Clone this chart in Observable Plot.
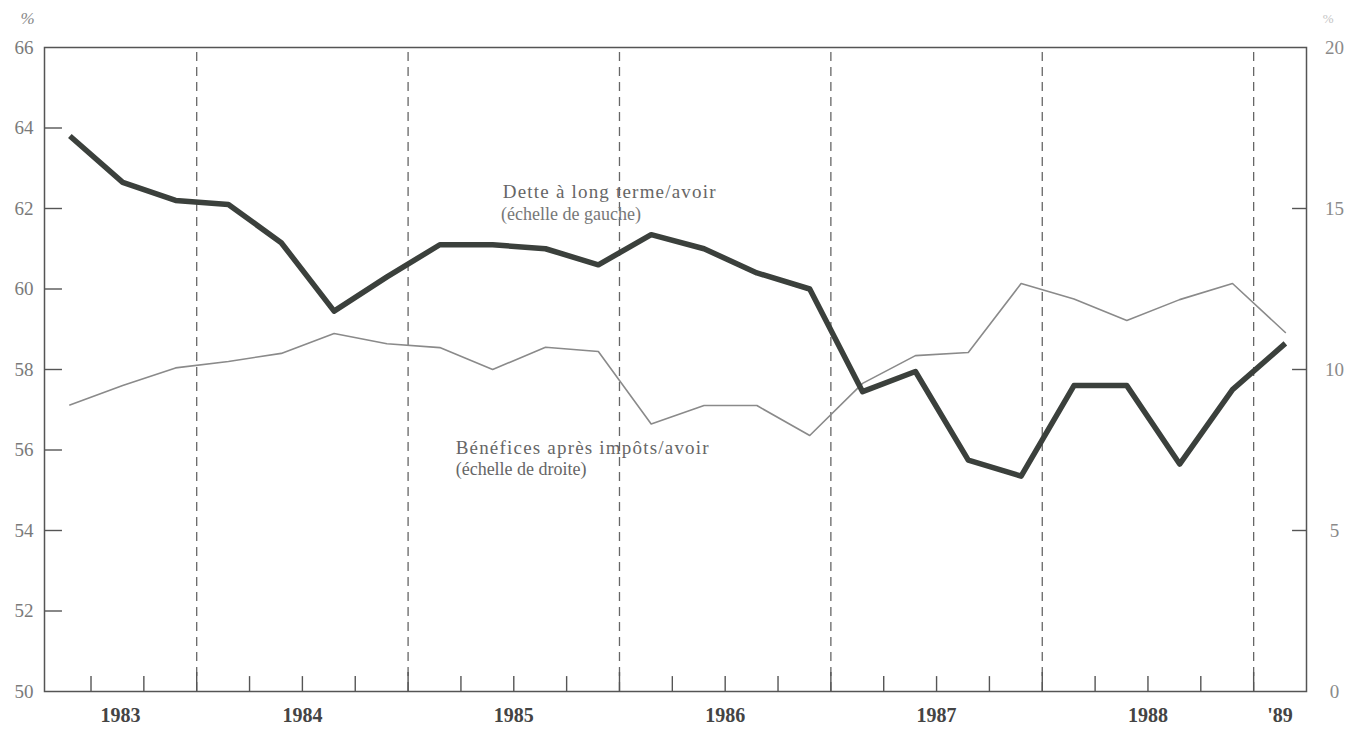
<!DOCTYPE html>
<html>
<head>
<meta charset="utf-8">
<script src="https://cdn.jsdelivr.net/npm/d3@7"></script>
<script src="https://cdn.jsdelivr.net/npm/@observablehq/plot@0.6"></script>
<style>
  html, body { margin: 0; padding: 0; background: #ffffff; }
  #chart svg { display: block; background: #ffffff; }
</style>
</head>
<body>
<div id="chart"></div>
<script>
// Quarterly observations
const quarters = [
  "1983-T2","1983-T3","1983-T4",
  "1984-T1","1984-T2","1984-T3","1984-T4",
  "1985-T1","1985-T2","1985-T3","1985-T4",
  "1986-T1","1986-T2","1986-T3","1986-T4",
  "1987-T1","1987-T2","1987-T3","1987-T4",
  "1988-T1","1988-T2","1988-T3","1988-T4",
  "1989-T1"
];
// Dette à long terme / avoir (%; échelle de gauche)
const detteAvoir = [63.8, 62.65, 62.2, 62.1, 61.15, 59.45, 60.3, 61.1, 61.1, 61.0, 60.6, 61.35,
                    61.0, 60.4, 60.0, 57.45, 57.95, 55.75, 55.35, 57.6, 57.6, 55.65, 57.5, 58.65];
// Bénéfices après impôts / avoir (%; échelle de droite)
const beneficesAvoir = [8.9, 9.5, 10.05, 10.25, 10.5, 11.12, 10.8, 10.68, 10.0, 10.69, 10.56, 8.31,
                        8.88, 8.88, 7.95, 9.57, 10.43, 10.53, 12.67, 12.19, 11.52, 12.17, 12.67, 11.15];
// Axis ticks
const leftTicks = [50, 52, 54, 56, 58, 60, 62, 64, 66];
const rightTicks = [0, 5, 10, 15, 20];
const years = [1983, 1984, 1985, 1986, 1987, 1988, 1989];
const yearLabels = ["1983", "1984", "1985", "1986", "1987", "1988", "'89"];

// Scale setup
const xDomain = [1983.28, 1989.25];
const yDomain = [50, 66];
const rightToLeft = r => 50 + r * 0.8;   // 0..20 -> 50..66

const qToX = q => {
  const [y, t] = q.split("-T");
  return +y + (+t - 1) / 4 + 0.15;
};

const dette = quarters.map((q, i) => ({x: qToX(q), v: detteAvoir[i]}));
const benef = quarters.map((q, i) => ({x: qToX(q), v: rightToLeft(beneficesAvoir[i])}));

const yearBounds = years.slice(1);
const quarterTicks = [];
for (const y of years) for (const k of [0.25, 0.5, 0.75]) {
  const v = y + k;
  if (v > xDomain[0] && v < xDomain[1]) quarterTicks.push(v);
}
const labelPos = years.map(y => (Math.max(y, xDomain[0]) + Math.min(y + 1, xDomain[1])) / 2);
const labelMap = new Map(labelPos.map((p, i) => [p, yearLabels[i]]));

const serif = "'Liberation Serif', 'DejaVu Serif', serif";
const inkFrame = "#555";

const chart = Plot.plot({
  width: 1360,
  height: 732,
  marginLeft: 44,
  marginRight: 54,
  marginTop: 47,
  marginBottom: 41,
  style: {fontFamily: serif, background: "#fff"},
  x: {domain: xDomain, axis: null},
  y: {domain: yDomain, axis: null},
  marks: [
    // dashed year separators
    Plot.ruleX(yearBounds, {y1: yDomain[0], y2: yDomain[1], stroke: "#666", strokeWidth: 1.3, strokeDasharray: "9,6"}),
    // year boundary ticks (solid)
    Plot.ruleX(yearBounds, {y1: yDomain[0], y2: yDomain[0] + 0.47, stroke: inkFrame, strokeWidth: 1.4}),
    // quarter ticks
    Plot.ruleX(quarterTicks, {y1: yDomain[0], y2: yDomain[0] + 0.37, stroke: inkFrame, strokeWidth: 1.4}),
    // left inward ticks
    Plot.ruleY(leftTicks.filter(d => d > 50 && d < 66), {x1: xDomain[0], x2: xDomain[0] + 0.085, stroke: inkFrame, strokeWidth: 1.4}),
    // right inward ticks
    Plot.ruleY(rightTicks.filter(d => d > 0 && d < 20).map(rightToLeft), {x1: xDomain[1] - 0.066, x2: xDomain[1], stroke: inkFrame, strokeWidth: 1.4}),
    Plot.frame({stroke: inkFrame, strokeWidth: 1.5}),
    // left axis labels
    Plot.axisY(leftTicks, {anchor: "left", label: null, tickSize: 0, tickPadding: 11, fontSize: 19, color: "#7a7a7a", fill: "#7a7a7a"}),
    // right axis labels
    Plot.axisY(rightTicks.map(rightToLeft), {anchor: "right", label: null, tickSize: 0, tickPadding: 28, textAnchor: "middle",
      tickFormat: d => String(Math.round((d - 50) / 0.8)), fontSize: 19, color: "#8a8a8a", fill: "#8a8a8a"}),
    // bottom year labels
    Plot.axisX(labelPos, {anchor: "bottom", label: null, tickSize: 0, tickPadding: 16, fontSize: 20, fontWeight: "bold",
      tickFormat: d => labelMap.get(d), color: "#444", fill: "#444"}),
    // % marks
    Plot.text(["%"], {frameAnchor: "top-left", dx: -24, dy: -36, fontSize: 17, fontStyle: "italic", fill: "#888"}),
    Plot.text(["%"], {frameAnchor: "top-right", dx: 27, dy: -34, fontSize: 13, fill: "#c4c4c4"}),
    // series
    Plot.line(benef, {x: "x", y: "v", stroke: "#8a8a8a", strokeWidth: 1.6, strokeLinejoin: "round"}),
    Plot.line(dette, {x: "x", y: "v", stroke: "#3b403c", strokeWidth: 5.5, strokeLinejoin: "round", strokeLinecap: "butt"}),
    // annotations
    Plot.text(["Dette à long terme/avoir"], {x: 1985.448, y: 62.40, textAnchor: "start", fontSize: 19, fill: "#666"}),
    Plot.text(["(échelle de gauche)"], {x: 1985.44, y: 61.85, textAnchor: "start", fontSize: 18, fill: "#777"}),
    Plot.text(["Bénéfices après impôts/avoir"], {x: 1985.225, y: 56.06, textAnchor: "start", fontSize: 19, fill: "#666"}),
    Plot.text(["(échelle de droite)"], {x: 1985.225, y: 55.52, textAnchor: "start", fontSize: 18, fill: "#666"})
  ]
});

chart.querySelectorAll("text").forEach(t => {
  const s = t.textContent;
  if (s.startsWith("Dette") || s.startsWith("Bénéfices")) t.setAttribute("letter-spacing", "1.2");
});
document.getElementById("chart").appendChild(chart);
</script>
</body>
</html>
